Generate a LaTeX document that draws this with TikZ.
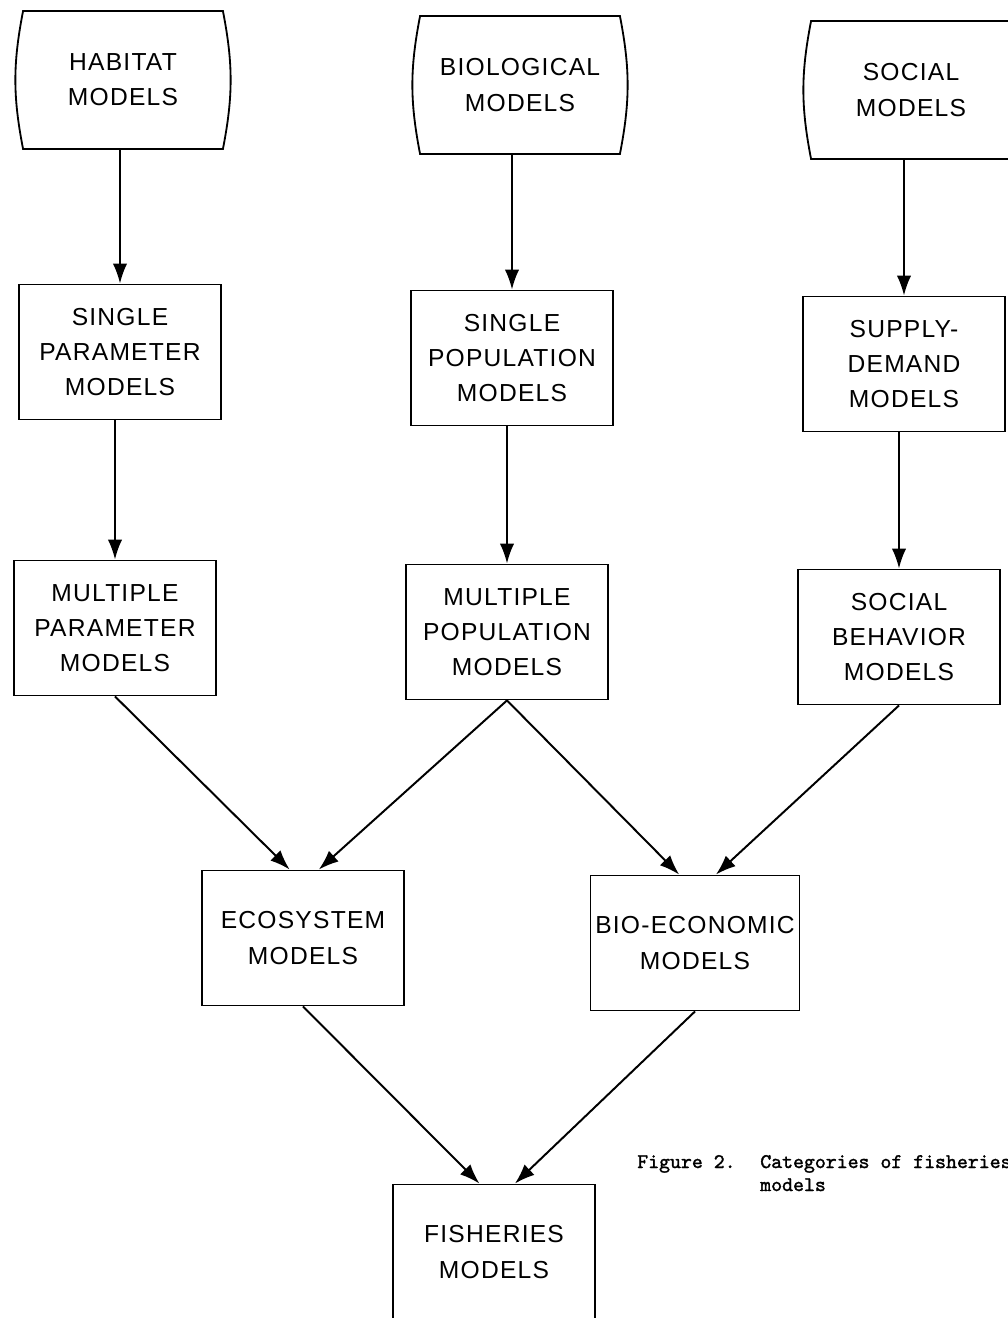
\documentclass[tikz,border=0pt]{standalone}
\usepackage{fontspec}
\setmainfont{Liberation Sans}
\newfontfamily\boxfont[LetterSpace=5]{Liberation Sans}
\newfontfamily\capfont[Extension=.otf,FakeBold=1.5]{lmmono10-regular}
\usetikzlibrary{arrows.meta}

\begin{document}
\begin{tikzpicture}[x=0.025cm,y=-0.025cm]
\tikzset{model/.style = {shape=rectangle,draw,line width=1.3pt,minimum width=5.05cm,minimum height=3.375cm,align=center,font=\boxfont\fontsize{17.5}{25}\selectfont},
  source/.style = {model,draw=none,minimum width=4.95cm,minimum height=3.4cm},
  link/.style = {line width=1.4pt,-{Latex[length=5mm,width=3.6mm]}},
  caption/.style = {anchor=base west,inner sep=0pt,font=\capfont\fontsize{14.8}{18}\selectfont}}
\useasboundingbox (0,0) rectangle (1008,1318);
% sources
\foreach \x/\y/\name/\txt in {123/80/habitat/{HABITAT\\MODELS},520/85/bio/{BIOLOGICAL\\MODELS},911/90/social/{SOCIAL\\MODELS}} {
    \node[source] (\name) at (\x,\y) {\txt};
    \draw[line width=1.3pt] (\name.north west) to[bend right=11] (\name.south west) -- (\name.south east) to[bend right=11] (\name.north east) -- cycle;
}
% models
\foreach \x/\y/\name/\txt in {120/352/sparam/{SINGLE\\PARAMETER\\MODELS},512/358/spop/{SINGLE\\POPULATION\\MODELS},904/364/supply/{SUPPLY-\\DEMAND\\MODELS},115/628/mparam/{MULTIPLE\\PARAMETER\\MODELS},507/632/mpop/{MULTIPLE\\POPULATION\\MODELS},899/637/sbehav/{SOCIAL\\BEHAVIOR\\MODELS},303/938/eco/{ECOSYSTEM\\MODELS},695/943/bioeco/{BIO-ECONOMIC\\MODELS},494/1252/fish/{FISHERIES\\MODELS}} {
    \node[model] (\name) at (\x,\y) {\txt};
}
% edges
\foreach \i/\j in {habitat/sparam,bio/spop,social/supply,sparam/mparam,spop/mpop,supply/sbehav} {
    \draw[link] (\j.north |- \i.south) -- (\j.north);
}
\foreach \i/\j in {mparam/eco.101,mpop/eco.77,mpop/bioeco.103,sbehav/bioeco.73,eco/fish.102,bioeco/fish.73} {
    \draw[link] (\i.south) -- (\j);
}
% caption
\node[caption] (fig) at (637,1168) {Figure 2.};
\node[caption] (cap) at (760,1168) {Categories of fisheries};
\node[caption] (capb) at (760,1191) {models};
\end{tikzpicture}
\end{document}
